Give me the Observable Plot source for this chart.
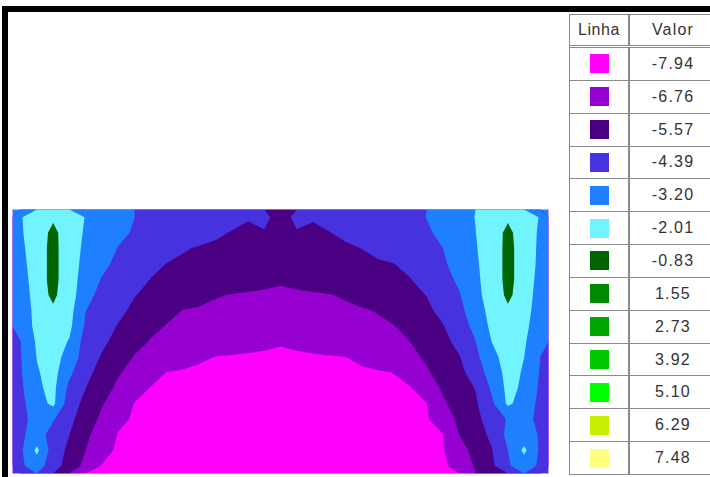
<!DOCTYPE html>
<html>
<head>
<meta charset="utf-8">
<script src="https://cdn.jsdelivr.net/npm/d3@7"></script>
<script src="https://cdn.jsdelivr.net/npm/@observablehq/plot@0.6"></script>
<style>
  html, body { margin: 0; padding: 0; background: #fff; }
  body { width: 710px; height: 477px; position: relative; overflow: hidden;
         font-family: "Liberation Sans", Arial, sans-serif; }
  .bar { position: absolute; background: #000; }
  #chart { position: absolute; left: 11px; top: 208px; }
  #legend { position: absolute; left: 569px; top: 14px; width: 145px;
            border-left: 1px solid #8a8a8a; border-top: 1px solid #8a8a8a; }
  .row { display: flex; box-sizing: border-box; height: 32.85px;
         border-bottom: 1px solid #8a8a8a; }
  .row.head { height: 33px; border-bottom: 3px double #8a8a8a; }
  .c1 { box-sizing: border-box; width: 60px; border-right: 2px solid #8a8a8a;
        display: flex; align-items: center; justify-content: center; }
  .c2 { flex: 1; display: flex; align-items: center; justify-content: center;
        color: #333; font-size: 16px; letter-spacing: 1.2px; padding-left: 1px; }
  .head .c1 { color: #333; font-size: 16px; letter-spacing: 0.6px; }
  .sw { width: 19px; height: 19px; }
</style>
</head>
<body>
<div class="bar" style="left:2px; top:6px; width:708px; height:6px;"></div>
<div class="bar" style="left:2px; top:6px; width:6px; height:471px;"></div>
<div id="chart"></div>
<div id="legend"></div>
<script>
// Contour levels shown in the legend table ("Valor") and their colours.
const levels = [-7.94, -6.76, -5.57, -4.39, -3.20, -2.01, -0.83, 1.55, 2.73, 3.92, 5.10, 6.29, 7.48];
const levelLabels = ["-7.94", "-6.76", "-5.57", "-4.39", "-3.20", "-2.01", "-0.83", "1.55", "2.73", "3.92", "5.10", "6.29", "7.48"];
const palette = ["#ff00ff", "#9600d0", "#4b0084", "#4632de", "#1f80ff", "#72f4ff", "#006400",
                 "#008a00", "#00a400", "#00c800", "#00ff00", "#c8f000", "#ffff80"];
const headers = ["Linha", "Valor"];

// Sampled field over the 8 x 4 panel: 17 rows (top to bottom) of 33 columns (left to right).
const columns = 33;
const fieldRows = [
  [-2.70,-1.90,-1.55,-2.00,-2.65,-3.02,-3.40,-3.79,-4.00,-4.15,-4.30,-4.45,-4.60,-4.75,-4.92,-4.85,-5.20,-4.85,-4.92,-4.75,-4.65,-4.50,-4.35,-4.20,-4.00,-3.78,-3.37,-2.98,-2.58,-2.00,-1.55,-1.90,-2.70],
  [-2.75,-1.90,-1.20,-1.90,-2.76,-3.12,-3.57,-3.89,-4.08,-4.28,-4.47,-4.67,-4.86,-5.02,-5.15,-5.02,-5.30,-5.02,-5.12,-5.00,-4.84,-4.66,-4.47,-4.28,-4.10,-3.91,-3.60,-3.12,-2.63,-1.90,-1.20,-1.90,-2.81],
  [-2.90,-1.85,-1.15,-1.95,-2.88,-3.31,-3.83,-4.10,-4.37,-4.65,-4.92,-5.04,-5.11,-5.18,-5.25,-5.32,-5.39,-5.34,-5.26,-5.18,-5.08,-4.97,-4.74,-4.51,-4.27,-4.03,-3.80,-3.25,-2.70,-1.95,-1.15,-1.85,-2.87],
  [-3.07,-1.85,-1.15,-1.95,-3.03,-3.56,-4.02,-4.36,-4.70,-5.00,-5.10,-5.20,-5.31,-5.41,-5.51,-5.62,-5.72,-5.62,-5.51,-5.41,-5.30,-5.19,-5.09,-4.99,-4.64,-4.29,-3.93,-3.42,-2.79,-1.95,-1.15,-1.85,-2.92],
  [-3.30,-1.85,-1.15,-1.95,-3.24,-3.85,-4.24,-4.63,-5.00,-5.13,-5.26,-5.39,-5.52,-5.65,-5.78,-5.91,-6.04,-5.91,-5.78,-5.65,-5.52,-5.40,-5.27,-5.14,-5.01,-4.61,-4.15,-3.62,-2.89,-1.95,-1.15,-1.85,-3.06],
  [-3.61,-1.85,-1.25,-1.95,-3.52,-4.04,-4.49,-4.94,-5.19,-5.42,-5.64,-5.87,-6.10,-6.20,-6.25,-6.30,-6.35,-6.30,-6.25,-6.20,-6.07,-5.85,-5.63,-5.41,-5.19,-4.96,-4.41,-3.87,-3.03,-1.95,-1.25,-1.85,-3.26],
  [-3.70,-2.05,-1.55,-2.20,-3.78,-4.26,-4.75,-5.17,-5.54,-5.90,-6.19,-6.26,-6.34,-6.42,-6.50,-6.57,-6.65,-6.57,-6.49,-6.40,-6.32,-6.24,-6.12,-5.80,-5.48,-5.16,-4.72,-4.08,-3.21,-2.20,-1.55,-2.05,-3.32],
  [-3.60,-2.20,-1.90,-2.35,-3.95,-4.50,-5.03,-5.48,-5.92,-6.21,-6.32,-6.42,-6.53,-6.63,-6.74,-6.84,-6.95,-6.84,-6.73,-6.62,-6.51,-6.40,-6.29,-6.18,-5.83,-5.42,-5.03,-4.35,-3.49,-2.35,-1.90,-2.20,-3.55],
  [-3.80,-2.45,-2.10,-2.68,-4.30,-4.76,-5.32,-5.86,-6.22,-6.35,-6.48,-6.61,-6.74,-6.86,-6.99,-7.12,-7.25,-7.11,-6.98,-6.84,-6.70,-6.57,-6.43,-6.30,-6.16,-5.71,-5.27,-4.68,-3.82,-2.60,-2.10,-2.45,-3.60],
  [-3.85,-2.57,-2.20,-3.00,-4.39,-5.07,-5.68,-6.21,-6.46,-6.72,-6.97,-7.22,-7.37,-7.42,-7.47,-7.51,-7.56,-7.51,-7.46,-7.41,-7.36,-7.14,-6.88,-6.62,-6.36,-6.04,-5.54,-5.04,-4.11,-2.90,-2.20,-2.60,-3.80],
  [-3.90,-2.70,-2.20,-3.55,-4.66,-5.37,-6.05,-6.55,-7.01,-7.37,-7.44,-7.51,-7.58,-7.65,-7.73,-7.80,-7.87,-7.80,-7.72,-7.65,-7.57,-7.50,-7.43,-7.33,-6.81,-6.27,-5.77,-5.27,-4.48,-3.25,-2.25,-2.70,-3.90],
  [-4.00,-2.80,-2.30,-4.10,-4.97,-5.70,-6.38,-6.97,-7.38,-7.48,-7.58,-7.68,-7.78,-7.88,-7.98,-8.08,-8.18,-8.08,-7.99,-7.89,-7.79,-7.69,-7.60,-7.50,-7.40,-6.86,-6.00,-5.49,-4.94,-3.63,-2.30,-2.80,-4.00],
  [-4.10,-3.10,-2.35,-4.42,-5.28,-6.06,-6.77,-7.37,-7.48,-7.60,-7.71,-7.83,-7.94,-8.06,-8.17,-8.29,-8.40,-8.29,-8.17,-8.06,-7.94,-7.83,-7.72,-7.60,-7.49,-7.37,-6.32,-5.69,-5.14,-4.03,-2.40,-3.10,-4.10],
  [-4.20,-3.30,-3.70,-4.70,-5.57,-6.40,-7.16,-7.44,-7.56,-7.69,-7.81,-7.93,-8.06,-8.18,-8.30,-8.43,-8.55,-8.43,-8.30,-8.18,-8.05,-7.93,-7.80,-7.68,-7.55,-7.43,-6.87,-5.90,-5.31,-4.42,-3.70,-3.30,-4.20],
  [-4.00,-3.30,-4.23,-4.97,-5.89,-6.76,-7.39,-7.51,-7.64,-7.77,-7.89,-8.02,-8.15,-8.27,-8.40,-8.52,-8.65,-8.52,-8.39,-8.26,-8.13,-8.00,-7.87,-7.75,-7.62,-7.49,-7.36,-6.15,-5.50,-4.75,-3.50,-3.30,-3.90],
  [-4.00,-2.35,-4.36,-5.23,-6.16,-7.12,-7.45,-7.58,-7.70,-7.83,-7.96,-8.08,-8.21,-8.34,-8.47,-8.59,-8.72,-8.59,-8.46,-8.33,-8.20,-8.07,-7.94,-7.81,-7.68,-7.55,-7.41,-6.67,-5.74,-5.04,-3.80,-2.35,-4.00],
  [-4.00,-3.20,-4.48,-5.46,-6.49,-7.37,-7.50,-7.62,-7.75,-7.88,-8.01,-8.14,-8.27,-8.40,-8.52,-8.65,-8.78,-8.65,-8.52,-8.39,-8.25,-8.12,-7.99,-7.85,-7.72,-7.59,-7.46,-7.10,-6.02,-5.22,-3.92,-3.20,-4.00]
];

fieldRows.forEach((r, i) => { if (r.length !== columns) throw new Error("row " + i + " has " + r.length + " values"); });
const field = fieldRows.flat();
const grid = {width: columns, height: fieldRows.length, x1: 0, y1: 0, x2: 8, y2: 4};

// Band edges sit halfway between neighbouring legend levels; the lowest
// threshold (field minimum) fills the whole panel with the first band.
const cuts = d3.pairs(levels, (a, b) => (a + b) / 2);
const thresholds = [d3.min(field), ...cuts];

const chart = Plot.plot({
  width: 538,
  height: 266,
  margin: 1,
  x: {domain: [0, 8], axis: null},
  y: {domain: [0, 4], axis: null, reverse: true},
  color: {type: "threshold", domain: cuts, range: palette},
  marks: [
    // Sample-by-sample raster underneath, so the panel corners keep their band colour
    Plot.raster(field, {...grid, fill: Plot.identity, imageRendering: "pixelated"}),
    Plot.contour(field, {...grid, thresholds, fill: Plot.identity}),
    Plot.frame({stroke: "#ee90ff", strokeOpacity: 0.5})
  ]
});
document.getElementById("chart").append(chart);

// Legend table: swatch colours come from the plot's own colour scale.
const color = chart.scale("color");
const legend = document.getElementById("legend");
const head = document.createElement("div");
head.className = "row head";
head.innerHTML = `<div class="c1">${headers[0]}</div><div class="c2">${headers[1]}</div>`;
legend.append(head);
levels.forEach((v, i) => {
  const row = document.createElement("div");
  row.className = "row";
  const c1 = document.createElement("div");
  c1.className = "c1";
  const sw = document.createElement("div");
  sw.className = "sw";
  sw.style.background = color.apply(v);
  c1.append(sw);
  const c2 = document.createElement("div");
  c2.className = "c2";
  c2.textContent = levelLabels[i];
  row.append(c1, c2);
  legend.append(row);
});
</script>
</body>
</html>
